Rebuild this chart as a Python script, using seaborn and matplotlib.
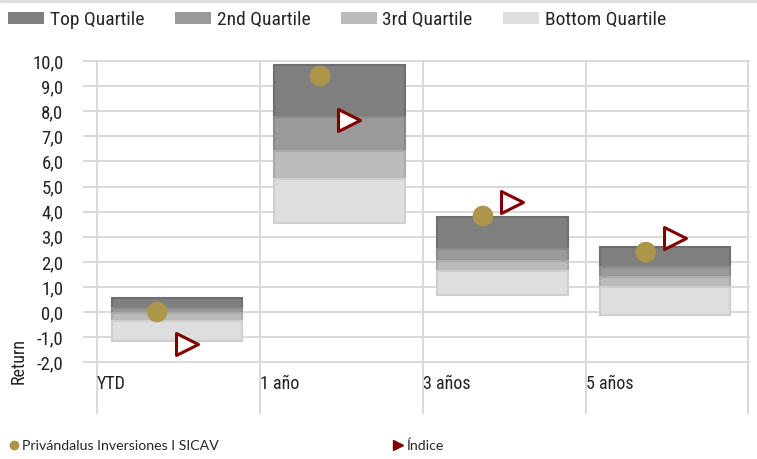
import numpy as np
import pandas as pd
import matplotlib
matplotlib.use("Agg")
import matplotlib.pyplot as plt
from matplotlib.patches import Patch
from matplotlib.lines import Line2D
import seaborn as sns

# Data
categories = ["YTD", "1 año", "3 años", "5 años"]
top_q = [0.55, 9.83, 3.78, 2.59]
first_q = [0.15, 7.77, 2.52, 1.80]
median_q = [-0.03, 6.42, 2.04, 1.41]
third_q = [-0.36, 5.30, 1.64, 1.01]
bottom_q = [-1.16, 3.55, 0.68, -0.12]
fund = [0.01, 9.40, 3.83, 2.39]
index = [-1.25, 7.64, 4.39, 2.96]

fund_name = "Privándalus Inversiones I SICAV"
index_name = "Índice"
band_names = ["Top Quartile", "2nd Quartile", "3rd Quartile", "Bottom Quartile"]
band_colors = ["#7f7f7f", "#9a9a9a", "#bbbbbb", "#dedede"]
band_edges = ["#6e6e6e", "#8a8a8a", "#aaaaaa", "#cfcfcf"]

sns.set_style("white")
plt.rcParams["font.family"] = ["Roboto Condensed", "Liberation Sans", "DejaVu Sans"]
legend_font = ["Lato", "Open Sans", "DejaVu Sans"]

fig = plt.figure(figsize=(7.57, 4.59), dpi=100)
ax = fig.add_axes([0.1096, 0.098, 0.8812, 0.771])

pos = np.arange(len(categories))
top_q, first_q, median_q, third_q, bottom_q = map(np.array, (top_q, first_q, median_q, third_q, bottom_q))

# floating stacked quartile boxes
segments = [(first_q, top_q), (median_q, first_q), (third_q, median_q), (bottom_q, third_q)]
for (lo, hi), c, ec in zip(segments, band_colors, band_edges):
    ax.bar(pos + 0.49, hi - lo, bottom=lo, width=0.80, color=c,
           edgecolor=ec, linewidth=1.5, zorder=2)

df = pd.DataFrame({"x": pos, "fund": fund, "index": index})
sns.scatterplot(data=df, x=df["x"] + 0.37, y="fund", ax=ax, s=220,
                color="#ad9549", edgecolor="none", zorder=4)
sns.scatterplot(data=df, x=df["x"] + 0.55, y="index", ax=ax, marker=">", s=250,
                facecolor="white", edgecolor="#800000", linewidth=2.2, zorder=5)

ax.set_xlim(-0.086, 4.01)
ax.set_ylim(-4.05, 10.03)
ax.set_yticks(np.arange(-2, 11, 1))
ax.set_yticklabels([f"{v:.1f}".replace(".", ",") for v in np.arange(-2, 11, 1)])
ax.set_xticks(np.arange(5))
ax.set_xticklabels(categories + [""], ha="left")
ax.tick_params(axis="x", length=0, pad=-28, labelsize=13, colors="#222222")
ax.tick_params(axis="y", length=0, pad=14, labelsize=13.5, colors="#222222")
ax.grid(True, color="#d9d9d9", linewidth=1.4)
ax.set_axisbelow(True)
for s in ax.spines.values():
    s.set_visible(False)
ax.set_xlabel("")
ax.set_ylabel("Return", fontsize=13, color="#222222")
ax.yaxis.set_label_coords(-0.083, 0.15)

# top legend
handles = [Patch(facecolor=c, edgecolor="none") for c in band_colors]
fig.legend(handles, band_names, loc="upper left", bbox_to_anchor=(-0.012, 1.015),
           ncol=4, frameon=False, fontsize=14, handlelength=1.85, handleheight=0.6,
           handletextpad=0.3, columnspacing=1.55)

# bottom legend
h2 = [Line2D([], [], marker="o", color="#ad9549", linestyle="none", markersize=6),
      Line2D([], [], marker=">", color="#800000", linestyle="none", markersize=7)]
fig.legend(h2, [fund_name, index_name], loc="lower left", bbox_to_anchor=(-0.004, -0.012),
           ncol=2, frameon=False, prop={"family": legend_font, "size": 10.2},
           handlelength=0.6, handletextpad=0.3, columnspacing=12.3)

fig.add_artist(Line2D([0, 1], [0.998, 0.998], color="#dddddd", linewidth=2,
                      transform=fig.transFigure))

fig.savefig("out.png", dpi=100)
